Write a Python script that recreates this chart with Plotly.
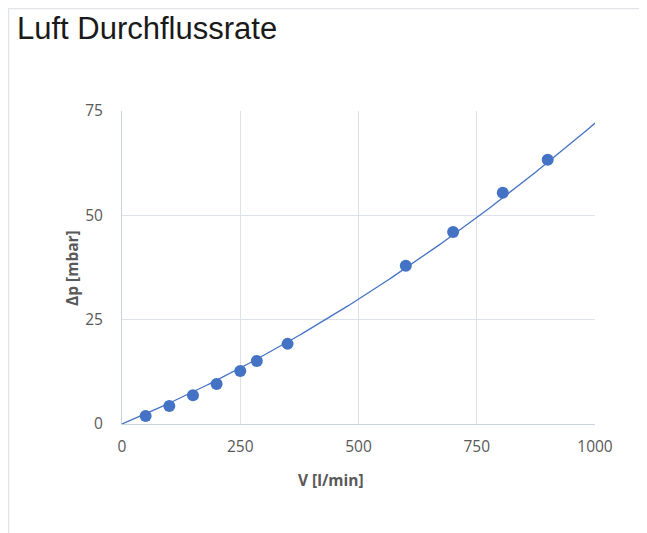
import numpy as np
import plotly.graph_objects as go

# Data
flow_lpm = [50, 100, 150, 200, 250, 285, 350, 600, 700, 805, 900]
dp_mbar = [1.9, 4.3, 6.9, 9.6, 12.7, 15.1, 19.2, 37.9, 46.0, 55.4, 63.3]

# Polynomial trendline (order 2) coefficients: [x^2, x, 1]
trend_coefs = [2.46e-5, 0.0475, 0.0]
trend_range = [0, 1000]

x_ticks = [0, 250, 500, 750, 1000]
y_ticks = [0, 25, 50, 75]

title_text = "Luft Durchflussrate"
x_title = "V [l/min]"
y_title = "Δp [mbar]"

xt = np.linspace(trend_range[0], trend_range[1], 201)
yt = np.polyval(trend_coefs, xt)

blue = "#4472C4"
gray_text = "#595959"

fig = go.Figure()
fig.add_trace(go.Scatter(x=xt, y=yt, mode="lines",
                         line=dict(color=blue, width=1.3),
                         hoverinfo="skip", showlegend=False))
fig.add_trace(go.Scatter(x=flow_lpm, y=dp_mbar, mode="markers",
                         marker=dict(color=blue, size=12, line=dict(width=0)),
                         showlegend=False))

# page is drawn with an 8px body offset; compensate
OFF = 8
W, H = 647 - OFF, 533 - OFF
L, T = 122 - OFF, 111 - OFF
R = W - (595 - OFF)
B = H - (424 - OFF)
pw, ph = W - L - R, H - T - B

def px_x(page_x):
    return (page_x - OFF - L) / pw

def px_y(page_y):
    return (T + ph - (page_y - OFF)) / ph

fig.update_layout(
    width=W, height=H,
    margin=dict(l=L, r=R, t=T, b=B),
    paper_bgcolor="white", plot_bgcolor="white",
    title=dict(text=title_text, x=(17 - OFF) / W, xanchor="left", xref="container",
               y=1 - (28 - OFF) / H, yanchor="middle", yref="container",
               font=dict(family="Liberation Sans, Arial", size=31, color="#1a1a1a")),
    xaxis=dict(range=[0, 1000], tickvals=x_ticks, ticktext=[str(v) for v in x_ticks],
               showgrid=True, gridcolor="#dde2ea", gridwidth=1,
               showline=True, linecolor="#c9d1de", linewidth=1,
               zeroline=False, ticks="", ticklabelstandoff=8,
               tickfont=dict(family="Open Sans", size=15.5, color=gray_text)),
    yaxis=dict(range=[0, 75], tickvals=y_ticks, ticktext=[str(v) for v in y_ticks],
               showgrid=True, gridcolor="#dde2ea", gridwidth=1,
               showline=True, linecolor="#c9d1de", linewidth=1,
               zeroline=False, ticks="", ticklabelstandoff=15,
               tickfont=dict(family="Open Sans", size=15.5, color=gray_text)),
    annotations=[
        dict(text="<b>" + x_title + "</b>", x=px_x(331), xref="paper",
             y=px_y(480), yref="paper", showarrow=False,
             xanchor="center", yanchor="middle",
             font=dict(family="Open Sans", size=15.5, color=gray_text)),
        dict(text="<b>" + y_title + "</b>", x=px_x(72), xref="paper",
             y=px_y(268), yref="paper", showarrow=False, textangle=-90,
             xanchor="center", yanchor="middle",
             font=dict(family="Open Sans", size=15.5, color=gray_text)),
    ],
    shapes=[
        dict(type="rect", xref="paper", yref="paper",
             x0=px_x(OFF + 0.5), x1=px_x(641),
             y0=px_y(560), y1=px_y(OFF + 0.5),
             line=dict(color="#e1e4e8", width=1.5), fillcolor="rgba(0,0,0,0)",
             layer="below"),
    ],
)

fig.write_html("out.html")
